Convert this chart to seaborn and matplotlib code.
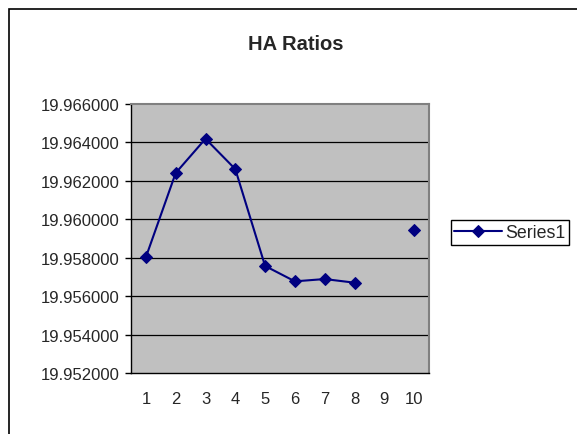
import numpy as np
import pandas as pd
import matplotlib
matplotlib.use("Agg")
import matplotlib.pyplot as plt
import matplotlib.patches as mpatches
import seaborn as sns

categories = ["1", "2", "3", "4", "5", "6", "7", "8", "9", "10"]
ratios = [19.95803, 19.96241, 19.96419, 19.96261, 19.95757,
          19.95677, 19.95689, 19.95670, np.nan, 19.95942]
y_ticks = [19.952, 19.954, 19.956, 19.958, 19.960, 19.962, 19.964, 19.966]

sns.set_style("white")
plt.rcParams["font.family"] = ["Liberation Sans", "DejaVu Sans"]

df = pd.DataFrame({"pos": np.arange(len(categories)), "ratio": ratios})
# Excel breaks the line at the empty cell, so give each run its own unit
df["run"] = df["ratio"].isna().cumsum()
df = df.dropna()

fig = plt.figure(figsize=(5.77, 4.35), dpi=100)
ax = fig.add_axes([131 / 577, 1 - 374 / 435, 298 / 577, 269 / 435])
ax.set_facecolor("#C0C0C0")

sns.lineplot(data=df, x="pos", y="ratio", units="run", estimator=None,
             color="#000080", linewidth=1.5, marker="D", markersize=6.5,
             markeredgecolor="#000080", ax=ax, legend=False)

ax.set_xlim(-0.5, len(categories) - 0.5)
ax.set_ylim(y_ticks[0], y_ticks[-1])
ax.set_yticks(y_ticks)
ax.set_yticklabels([f"{v:.6f}" for v in y_ticks], fontsize=12)
for v in y_ticks[1:-1]:
    ax.axhline(v, color="black", linewidth=0.9, zorder=1)

ax.set_xticks(np.arange(len(categories)))
ax.set_xticklabels(categories, fontsize=12)
ax.set_xticks(np.arange(len(categories) + 1) - 0.5, minor=True)
ax.tick_params(axis="x", which="major", length=0, pad=13)
ax.tick_params(axis="x", which="minor", length=4, width=1, direction="out", color="black")
ax.tick_params(axis="y", length=4.3, width=1, direction="out", color="black", pad=4, left=True)
ax.set_xlabel("")
ax.set_ylabel("")

for side in ["top", "right"]:
    ax.spines[side].set_color("#808080")
    ax.spines[side].set_linewidth(1.5)
for side in ["left", "bottom"]:
    ax.spines[side].set_color("black")
    ax.spines[side].set_linewidth(1)

fig.text(295.5 / 577, 1 - 45 / 435, "HA Ratios", ha="center", va="center",
         fontsize=14.5, fontweight="bold")

leg = fig.legend(handles=[ax.lines[0]], labels=["Series1"], loc="center left",
                 bbox_to_anchor=(450.5 / 577, 1 - 233.5 / 435), fontsize=12.8,
                 fancybox=False, edgecolor="black", framealpha=1,
                 handlelength=2.7, handletextpad=0.2, borderpad=0.2,
                 borderaxespad=0)
leg.get_frame().set_linewidth(1)

fig.patches.append(mpatches.Rectangle((8.5 / 577, -0.1), 1.0, 1.1 - 9.5 / 435,
                                      transform=fig.transFigure, fill=False,
                                      edgecolor="black", linewidth=1.2))

fig.savefig("out.png", dpi=100)
